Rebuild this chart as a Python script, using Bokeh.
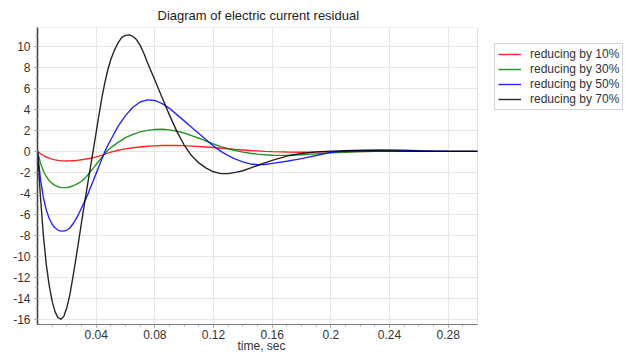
from bokeh.plotting import figure
from bokeh.models import FixedTicker, Legend, LegendItem, Range1d, PrintfTickFormatter, BoxAnnotation, Title
from bokeh.embed import file_html
from bokeh.resources import INLINE

t = [0.000, 0.002, 0.004, 0.006, 0.008, 0.010, 0.012, 0.014, 0.016, 0.018,
     0.020, 0.022, 0.024, 0.026, 0.028, 0.030, 0.032, 0.034, 0.036, 0.038,
     0.040, 0.042, 0.044, 0.046, 0.048, 0.050, 0.055, 0.060, 0.065, 0.070,
     0.075, 0.080, 0.085, 0.090, 0.095, 0.100, 0.105, 0.110, 0.115, 0.120,
     0.125, 0.130, 0.135, 0.140, 0.145, 0.150, 0.155, 0.160, 0.170, 0.180,
     0.190, 0.200, 0.210, 0.220, 0.230, 0.240, 0.250, 0.260, 0.270, 0.280,
     0.290, 0.300]

red_10 = [0, -0.22, -0.40, -0.54, -0.65, -0.74, -0.81, -0.86, -0.89, -0.91,
          -0.92, -0.91, -0.89, -0.87, -0.84, -0.80, -0.76, -0.71, -0.66, -0.60,
          -0.53, -0.45, -0.36, -0.27, -0.17, -0.08, 0.10, 0.24, 0.34, 0.42,
          0.48, 0.52, 0.55, 0.56, 0.56, 0.54, 0.50, 0.46, 0.41, 0.36,
          0.30, 0.24, 0.18, 0.13, 0.08, 0.04, 0.00, -0.03, -0.07, -0.08,
          -0.07, -0.05, -0.03, -0.01, 0.00, 0.01, 0.01, 0.01, 0.00, 0.00,
          0.00, 0.00]

green_30 = [0, -1.10, -1.90, -2.40, -2.80, -3.05, -3.25, -3.37, -3.44, -3.46,
            -3.45, -3.40, -3.30, -3.18, -3.02, -2.85, -2.60, -2.30, -1.95, -1.60,
            -1.25, -0.90, -0.55, -0.20, 0.10, 0.35, 0.85, 1.30, 1.62, 1.85,
            2.00, 2.08, 2.10, 2.05, 1.92, 1.75, 1.50, 1.25, 0.97, 0.70,
            0.45, 0.25, 0.07, -0.07, -0.18, -0.27, -0.33, -0.37, -0.38, -0.33,
            -0.24, -0.15, -0.08, -0.03, 0.00, 0.01, 0.01, 0.01, 0.00, 0.00,
            0.00, 0.00]

blue_50 = [0, -2.60, -4.40, -5.60, -6.40, -6.95, -7.30, -7.50, -7.60, -7.60,
           -7.50, -7.30, -6.95, -6.50, -6.00, -5.40, -4.80, -4.20, -3.50, -2.80,
           -2.10, -1.40, -0.70, 0.00, 0.60, 1.10, 2.40, 3.40, 4.20, 4.70,
           4.90, 4.85, 4.55, 4.10, 3.50, 2.90, 2.30, 1.70, 1.10, 0.50,
           0.00, -0.40, -0.75, -1.00, -1.20, -1.27, -1.25, -1.15, -0.95, -0.70,
           -0.40, -0.10, 0.05, 0.12, 0.14, 0.13, 0.10, 0.06, 0.03, 0.01,
           0.00, 0.00]

# the 70% curve is read on a finer time grid around its sharp peak
t_black = [0.000, 0.002, 0.004, 0.006, 0.008, 0.010, 0.012, 0.014, 0.016, 0.018,
           0.020, 0.022, 0.024, 0.026, 0.028, 0.030, 0.032, 0.034, 0.036, 0.038,
           0.040, 0.042, 0.044, 0.046, 0.048, 0.050, 0.0525, 0.055, 0.0575, 0.060,
           0.0625, 0.065, 0.0675, 0.070, 0.0725, 0.075, 0.080, 0.085, 0.090, 0.095,
           0.100, 0.105, 0.110, 0.115, 0.120, 0.125, 0.130, 0.135, 0.140, 0.145,
           0.150, 0.155, 0.160, 0.170, 0.180, 0.190, 0.200, 0.210, 0.220, 0.230,
           0.240, 0.250, 0.260, 0.270, 0.280, 0.290, 0.300]

black_70 = [0, -4.30, -8.00, -10.80, -12.80, -14.30, -15.30, -15.85, -16.00, -15.70,
            -14.90, -13.70, -12.10, -10.40, -8.60, -6.80, -5.00, -3.30, -1.60, 0.10,
            1.80, 3.55, 5.20, 6.60, 7.80, 8.75, 9.65, 10.35, 10.85, 11.05,
            11.10, 10.95, 10.65, 10.10, 9.35, 8.45, 6.80, 5.10, 3.45, 1.90,
            0.60, -0.40, -1.10, -1.60, -1.95, -2.12, -2.12, -2.00, -1.85, -1.60,
            -1.35, -1.10, -0.86, -0.45, -0.20, -0.05, 0.02, 0.05, 0.06, 0.05,
            0.04, 0.02, 0.01, 0.00, 0.00, 0.00, 0.00]

labels = ["reducing by 10%", "reducing by 30%", "reducing by 50%", "reducing by 70%"]
colors = ["#ff0000", "#008000", "#0000ff", "#000000"]
x_ticks = [0.04, 0.08, 0.12, 0.16, 0.2, 0.24, 0.28]
y_ticks = [-16, -14, -12, -10, -8, -6, -4, -2, 0, 2, 4, 6, 8, 10]
x_min, x_max = 0.0, 0.3
y_min, y_max = -16.5, 11.8

FONT = "Liberation Sans"

# frame spans to the right edge so the legend can sit beside the data area
px_per_unit = 440 / (x_max - x_min)
view_right = x_min + 588 / px_per_unit

p = figure(width=625, height=353, output_backend="svg", toolbar_location=None,
           x_range=Range1d(x_min, view_right), y_range=Range1d(y_min, y_max),
           min_border_left=37, min_border_right=0, min_border_top=27,
           min_border_bottom=29, title="Diagram of electric current residual")

p.title.align = "left"
p.title.offset = 120
p.title.text_font = FONT
p.title.text_font_size = "13px"
p.title.text_font_style = "normal"
p.title.text_color = "#222222"

p.outline_line_color = None
p.background_fill_color = "white"
p.border_fill_color = "white"

p.xaxis.ticker = FixedTicker(ticks=x_ticks, minor_ticks=[i / 100 for i in range(1, 30)])
p.yaxis.ticker = FixedTicker(ticks=y_ticks, minor_ticks=list(range(-16, 12)))
p.yaxis.formatter = PrintfTickFormatter(format="%d")
p.xaxis.bounds = (x_min, x_max)
for ax in (p.xaxis, p.yaxis):
    ax.major_label_text_font = FONT
    ax.major_label_text_font_size = "12px"
    ax.major_label_text_color = "#333333"
    ax.major_tick_in = 0
    ax.major_tick_out = 3
    ax.minor_tick_in = 0
    ax.minor_tick_out = 2
    ax.major_tick_line_color = "#888888"
    ax.minor_tick_line_color = "#aaaaaa"
p.xaxis.axis_line_color = "#777777"
p.yaxis.axis_line_color = "#333333"
p.yaxis.axis_line_width = 1.5
p.xaxis.major_label_standoff = 2
p.yaxis.major_label_standoff = 4

# x-axis caption, centred under the data area (not under the whole frame)
xcap = Title(text="time, sec", align="left", offset=200, vertical_align="top",
             text_font=FONT, text_font_size="12px", text_font_style="normal",
             text_color="#333333")
try:
    xcap.standoff = -5
except Exception:
    xcap.standoff = 0
p.add_layout(xcap, "below")

p.xgrid.grid_line_color = "#e6e6e6"
p.ygrid.grid_line_color = "#e6e6e6"
p.xgrid.ticker = FixedTicker(ticks=x_ticks)
p.ygrid.ticker = FixedTicker(ticks=y_ticks)
p.ygrid.cross_bounds = (x_min, x_max)

border = BoxAnnotation(left=x_min, right=x_max, bottom=y_min, top=y_max,
                       fill_alpha=0, line_color="#999999", line_width=1)
p.add_layout(border)

series = [(t, red_10), (t, green_30), (t, blue_50), (t_black, black_70)]
items = []
for lab, col, (xs, ys) in zip(labels, colors, series):
    r = p.line(xs, ys, line_color=col, line_width=1.4, alpha=0.85)
    items.append(LegendItem(label=lab, renderers=[r]))

legend = Legend(items=items, location=(457, 214))
legend.label_text_font = FONT
legend.label_text_font_size = "12px"
legend.label_text_color = "#333333"
legend.border_line_color = "#aaaaaa"
legend.background_fill_alpha = 1
legend.glyph_width = 23
legend.glyph_height = 12
legend.label_height = 12
legend.spacing = 1
legend.padding = 3
legend.margin = 0
legend.label_standoff = 9
p.add_layout(legend, "center")

open("out.html", "w").write(file_html(p, INLINE))
